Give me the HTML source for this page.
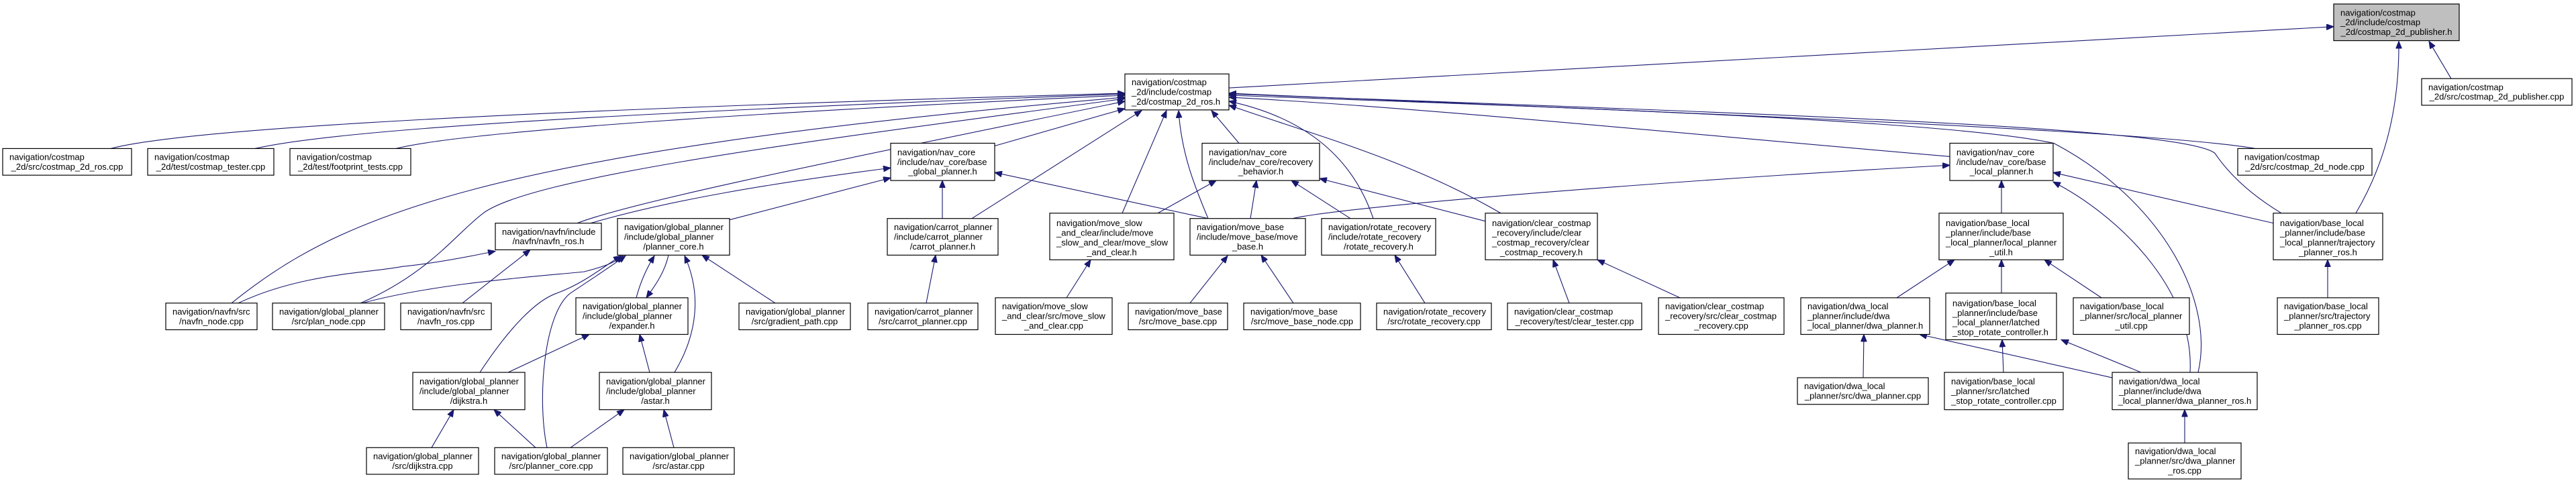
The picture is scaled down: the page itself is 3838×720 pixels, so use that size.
<!DOCTYPE html>
<html><head><meta charset="utf-8"><style>
html,body{margin:0;padding:0;background:#fff;}
svg{display:block;}
text{font-family:"Liberation Sans",sans-serif;font-size:13px;fill:#000;text-anchor:start;}
text.c{text-anchor:middle;}
.n{fill:#fff;stroke:#000;stroke-width:1.2;}
.e{fill:none;stroke:#191970;stroke-width:1.1;marker-end:url(#a);}
</style></head><body>
<svg width="3838" height="720" viewBox="0 0 3838 720" xmlns="http://www.w3.org/2000/svg">
<defs><marker id="a" markerWidth="12" markerHeight="9" refX="11" refY="4.5" orient="auto" markerUnits="userSpaceOnUse"><path d="M0,0 L11,4.5 L0,9 z" fill="#191970" stroke="#191970"/></marker></defs>
<g transform="scale(1,0.993)">
<g>
<path class="e" d="M1831,132 L3477,40"/>
<path class="e" d="M3652,118 L3619,62"/>
<path class="e" d="M3510,320 C3545,260 3575,180 3574,62"/>
<path class="e" d="M165,223 C250,200 600,170 1676,140"/>
<path class="e" d="M380,223 C500,195 900,170 1676,141"/>
<path class="e" d="M590,223 C700,195 1200,165 1676,143"/>
<path class="e" d="M345,455 C500,330 700,230 1676,146"/>
<path class="e" d="M537,455 C640,410 680,350 720,320 C800,260 1300,200 1676,148"/>
<path class="e" d="M860,335 C950,300 1300,230 1676,152"/>
<path class="e" d="M1482,219 L1676,163"/>
<path class="e" d="M1448,328 L1701,166"/>
<path class="e" d="M1672,320 L1738,166"/>
<path class="e" d="M1800,328 C1780,280 1760,230 1756,166"/>
<path class="e" d="M1846,215 L1805,166"/>
<path class="e" d="M2046,328 C2020,250 1960,180 1831,152"/>
<path class="e" d="M2236,320 C2100,240 1950,200 1831,158"/>
<path class="e" d="M2905,235 C2500,200 2100,160 1831,146"/>
<path class="e" d="M3360,223 C3200,195 2500,170 1831,140"/>
<path class="e" d="M3399,320 C3350,290 3320,260 3300,230 C3250,190 2600,170 1831,141"/>
<path class="e" d="M3275,559 C3300,450 3220,300 3060,215 C2900,180 2300,160 1831,143"/>
<path class="e" d="M880,335 C1000,300 1150,275 1327,252"/>
<path class="e" d="M1087,330 L1327,267"/>
<path class="e" d="M1404,328 L1404,271"/>
<path class="e" d="M1800,328 L1482,259"/>
<path class="e" d="M1725,320 L1812,271"/>
<path class="e" d="M1863,328 L1872,271"/>
<path class="e" d="M2012,328 L1924,271"/>
<path class="e" d="M2213,332 L1966,268"/>
<path class="e" d="M1926,328 C2000,310 2500,270 2905,248"/>
<path class="e" d="M1589,447 L1625,390"/>
<path class="e" d="M1380,455 L1394,383"/>
<path class="e" d="M1155,455 L1046,383"/>
<path class="e" d="M1773,455 L1829,384"/>
<path class="e" d="M1927,455 L1879,383"/>
<path class="e" d="M2123,455 L2078,383"/>
<path class="e" d="M2338,455 L2314,390"/>
<path class="e" d="M2503,447 L2380,390"/>
<path class="e" d="M355,455 C450,410 550,410 600,400 C650,395 700,385 738,377"/>
<path class="e" d="M689,455 L790,375"/>
<path class="e" d="M540,455 C650,425 800,415 870,408 C900,400 915,395 928,384"/>
<path class="e" d="M715,559 C760,490 800,450 830,440 C870,425 900,400 925,384"/>
<path class="e" d="M815,672 C800,600 810,470 850,440 C880,420 910,400 932,384"/>
<path class="e" d="M948,447 C955,420 965,400 975,384"/>
<path class="e" d="M996,383 C990,410 975,430 963,447"/>
<path class="e" d="M1005,559 C1040,500 1045,440 1020,384"/>
<path class="e" d="M757,559 L878,502"/>
<path class="e" d="M968,559 L953,502"/>
<path class="e" d="M643,672 L676,615"/>
<path class="e" d="M798,672 L736,615"/>
<path class="e" d="M850,672 L930,615"/>
<path class="e" d="M1004,672 L989,615"/>
<path class="e" d="M2982,320 L2982,271"/>
<path class="e" d="M3387,335 L3059,259"/>
<path class="e" d="M3263,559 C3270,430 3150,320 3059,273"/>
<path class="e" d="M2826,447 L2912,390"/>
<path class="e" d="M2982,440 L2982,390"/>
<path class="e" d="M3131,447 L3046,390"/>
<path class="e" d="M2985,559 L2983,510"/>
<path class="e" d="M3190,559 L3071,510"/>
<path class="e" d="M3147,567 L2860,502"/>
<path class="e" d="M2776,567 L2777,502"/>
<path class="e" d="M3255,665 L3255,615"/>
<path class="e" d="M3468,447 L3468,390"/>
</g>
<g>
<rect x="3477" y="6" width="187" height="55" style="fill:#bfbfbf;stroke:#000;stroke-width:1.2"/>
<text x="3487" y="23.5">navigation/costmap</text><text x="3487" y="38">_2d/include/costmap</text><text class="c" x="3570.5" y="52.5">_2d/costmap_2d_publisher.h</text>

<rect class="n" x="3608" y="118" width="224" height="40"/>
<text x="3618" y="135.25">navigation/costmap</text><text class="c" x="3720" y="149.75">_2d/src/costmap_2d_publisher.cpp</text>

<rect class="n" x="1676" y="111" width="155" height="54"/>
<text x="1686" y="128">navigation/costmap</text><text x="1686" y="142.5">_2d/include/costmap</text><text x="1686" y="157">_2d/costmap_2d_ros.h</text>

<rect class="n" x="4" y="223" width="192" height="40"/>
<text x="14" y="240.25">navigation/costmap</text><text class="c" x="100" y="254.75">_2d/src/costmap_2d_ros.cpp</text>
<rect class="n" x="220" y="223" width="188" height="40"/>
<text x="230" y="240.25">navigation/costmap</text><text class="c" x="314" y="254.75">_2d/test/costmap_tester.cpp</text>
<rect class="n" x="432" y="223" width="180" height="40"/>
<text x="442" y="240.25">navigation/costmap</text><text class="c" x="522" y="254.75">_2d/test/footprint_tests.cpp</text>
<rect class="n" x="3334" y="223" width="200" height="40"/>
<text x="3344" y="240.25">navigation/costmap</text><text class="c" x="3434" y="254.75">_2d/src/costmap_2d_node.cpp</text>

<rect class="n" x="1327" y="215" width="155" height="56"/>
<text x="1337" y="233">navigation/nav_core</text><text x="1337" y="247.5">/include/nav_core/base</text><text class="c" x="1404.5" y="262">_global_planner.h</text>
<rect class="n" x="1791" y="215" width="175" height="56"/>
<text x="1801" y="233">navigation/nav_core</text><text x="1801" y="247.5">/include/nav_core/recovery</text><text class="c" x="1878.5" y="262">_behavior.h</text>
<rect class="n" x="2905" y="215" width="154" height="56"/>
<text x="2915" y="233">navigation/nav_core</text><text x="2915" y="247.5">/include/nav_core/base</text><text class="c" x="2982" y="262">_local_planner.h</text>

<rect class="n" x="738" y="335" width="158" height="40"/>
<text x="748" y="352.25">navigation/navfn/include</text><text class="c" x="817" y="366.75">/navfn/navfn_ros.h</text>

<rect class="n" x="920" y="328" width="167" height="55"/>
<text x="930" y="345.5">navigation/global_planner</text><text x="930" y="360">/include/global_planner</text><text class="c" x="1003.5" y="374.5">/planner_core.h</text>
<rect class="n" x="1322" y="328" width="165" height="55"/>
<text x="1332" y="345.5">navigation/carrot_planner</text><text x="1332" y="360">/include/carrot_planner</text><text class="c" x="1404.5" y="374.5">/carrot_planner.h</text>
<rect class="n" x="1773" y="328" width="172" height="55"/>
<text x="1783" y="345.5">navigation/move_base</text><text x="1783" y="360">/include/move_base/move</text><text class="c" x="1859" y="374.5">_base.h</text>
<rect class="n" x="1969" y="328" width="170" height="55"/>
<text x="1979" y="345.5">navigation/rotate_recovery</text><text x="1979" y="360">/include/rotate_recovery</text><text class="c" x="2054" y="374.5">/rotate_recovery.h</text>

<rect class="n" x="1564" y="320" width="185" height="70"/>
<text x="1574" y="339.6">navigation/move_slow</text><text x="1574" y="354.1">_and_clear/include/move</text><text x="1574" y="368.6">_slow_and_clear/move_slow</text><text class="c" x="1656.5" y="383.1">_and_clear.h</text>
<rect class="n" x="2213" y="320" width="167" height="70"/>
<text x="2223" y="339.6">navigation/clear_costmap</text><text x="2223" y="354.1">_recovery/include/clear</text><text x="2223" y="368.6">_costmap_recovery/clear</text><text class="c" x="2296.5" y="383.1">_costmap_recovery.h</text>
<rect class="n" x="2889" y="320" width="185" height="70"/>
<text x="2899" y="339.6">navigation/base_local</text><text x="2899" y="354.1">_planner/include/base</text><text x="2899" y="368.6">_local_planner/local_planner</text><text class="c" x="2981.5" y="383.1">_util.h</text>
<rect class="n" x="3387" y="320" width="163" height="70"/>
<text x="3397" y="339.6">navigation/base_local</text><text x="3397" y="354.1">_planner/include/base</text><text x="3397" y="368.6">_local_planner/trajectory</text><text class="c" x="3468.5" y="383.1">_planner_ros.h</text>

<rect class="n" x="247" y="455" width="136" height="40"/>
<text x="257" y="472.25">navigation/navfn/src</text><text class="c" x="315" y="486.75">/navfn_node.cpp</text>
<rect class="n" x="406" y="455" width="167" height="40"/>
<text x="416" y="472.25">navigation/global_planner</text><text class="c" x="489.5" y="486.75">/src/plan_node.cpp</text>
<rect class="n" x="597" y="455" width="135" height="40"/>
<text x="607" y="472.25">navigation/navfn/src</text><text class="c" x="664.5" y="486.75">/navfn_ros.cpp</text>
<rect class="n" x="1101" y="455" width="166" height="40"/>
<text x="1111" y="472.25">navigation/global_planner</text><text class="c" x="1184" y="486.75">/src/gradient_path.cpp</text>
<rect class="n" x="1293" y="455" width="164" height="40"/>
<text x="1303" y="472.25">navigation/carrot_planner</text><text class="c" x="1375" y="486.75">/src/carrot_planner.cpp</text>
<rect class="n" x="1681" y="455" width="148" height="40"/>
<text x="1691" y="472.25">navigation/move_base</text><text class="c" x="1755" y="486.75">/src/move_base.cpp</text>
<rect class="n" x="1853" y="455" width="174" height="40"/>
<text x="1863" y="472.25">navigation/move_base</text><text class="c" x="1940" y="486.75">/src/move_base_node.cpp</text>
<rect class="n" x="2051" y="455" width="171" height="40"/>
<text x="2061" y="472.25">navigation/rotate_recovery</text><text class="c" x="2136.5" y="486.75">/src/rotate_recovery.cpp</text>
<rect class="n" x="2246" y="455" width="200" height="40"/>
<text x="2256" y="472.25">navigation/clear_costmap</text><text class="c" x="2346" y="486.75">_recovery/test/clear_tester.cpp</text>

<rect class="n" x="858" y="447" width="167" height="55"/>
<text x="868" y="464.5">navigation/global_planner</text><text x="868" y="479">/include/global_planner</text><text class="c" x="941.5" y="493.5">/expander.h</text>
<rect class="n" x="1483" y="447" width="174" height="55"/>
<text x="1493" y="464.5">navigation/move_slow</text><text x="1493" y="479">_and_clear/src/move_slow</text><text class="c" x="1570" y="493.5">_and_clear.cpp</text>
<rect class="n" x="2471" y="447" width="187" height="55"/>
<text x="2481" y="464.5">navigation/clear_costmap</text><text x="2481" y="479">_recovery/src/clear_costmap</text><text class="c" x="2564.5" y="493.5">_recovery.cpp</text>
<rect class="n" x="2683" y="447" width="192" height="55"/>
<text x="2693" y="464.5">navigation/dwa_local</text><text x="2693" y="479">_planner/include/dwa</text><text class="c" x="2779" y="493.5">_local_planner/dwa_planner.h</text>
<rect class="n" x="3089" y="447" width="173" height="55"/>
<text x="3099" y="464.5">navigation/base_local</text><text x="3099" y="479">_planner/src/local_planner</text><text class="c" x="3175.5" y="493.5">_util.cpp</text>
<rect class="n" x="3393" y="447" width="151" height="55"/>
<text x="3403" y="464.5">navigation/base_local</text><text x="3403" y="479">_planner/src/trajectory</text><text class="c" x="3468.5" y="493.5">_planner_ros.cpp</text>

<rect class="n" x="2899" y="440" width="165" height="70"/>
<text x="2909" y="459.6">navigation/base_local</text><text x="2909" y="474.1">_planner/include/base</text><text x="2909" y="488.6">_local_planner/latched</text><text x="2909" y="503.1">_stop_rotate_controller.h</text>

<rect class="n" x="615" y="559" width="167" height="56"/>
<text x="625" y="577">navigation/global_planner</text><text x="625" y="591.5">/include/global_planner</text><text class="c" x="698.5" y="606">/dijkstra.h</text>
<rect class="n" x="893" y="559" width="167" height="56"/>
<text x="903" y="577">navigation/global_planner</text><text x="903" y="591.5">/include/global_planner</text><text class="c" x="976.5" y="606">/astar.h</text>
<rect class="n" x="2897" y="559" width="177" height="56"/>
<text x="2907" y="577">navigation/base_local</text><text x="2907" y="591.5">_planner/src/latched</text><text class="c" x="2985.5" y="606">_stop_rotate_controller.cpp</text>
<rect class="n" x="3147" y="559" width="216" height="56"/>
<text x="3157" y="577">navigation/dwa_local</text><text x="3157" y="591.5">_planner/include/dwa</text><text class="c" x="3255" y="606">_local_planner/dwa_planner_ros.h</text>
<rect class="n" x="2678" y="567" width="195" height="40"/>
<text x="2688" y="584.25">navigation/dwa_local</text><text class="c" x="2775.5" y="598.75">_planner/src/dwa_planner.cpp</text>

<rect class="n" x="546" y="672" width="167" height="40"/>
<text x="556" y="689.25">navigation/global_planner</text><text class="c" x="629.5" y="703.75">/src/dijkstra.cpp</text>
<rect class="n" x="737" y="672" width="168" height="40"/>
<text x="747" y="689.25">navigation/global_planner</text><text class="c" x="821" y="703.75">/src/planner_core.cpp</text>
<rect class="n" x="928" y="672" width="166" height="40"/>
<text x="938" y="689.25">navigation/global_planner</text><text class="c" x="1011" y="703.75">/src/astar.cpp</text>
<rect class="n" x="3171" y="665" width="168" height="54"/>
<text x="3181" y="682">navigation/dwa_local</text><text x="3181" y="696.5">_planner/src/dwa_planner</text><text class="c" x="3255" y="711">_ros.cpp</text>
</g>
</g>
</svg>
</body></html>
